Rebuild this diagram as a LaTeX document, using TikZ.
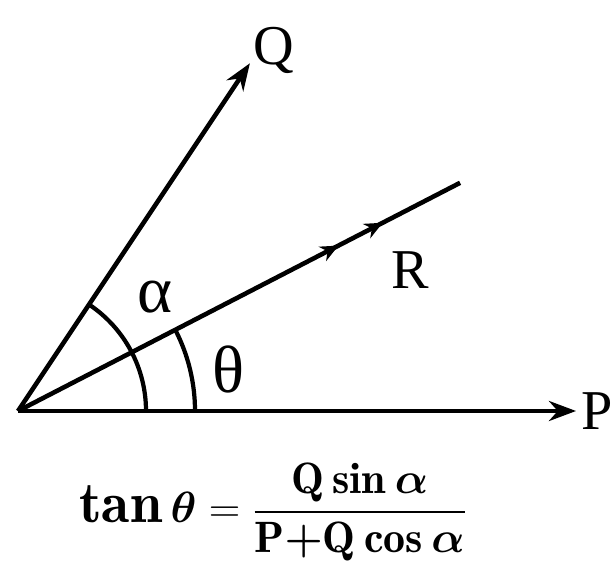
\documentclass[tikz,border=0pt]{standalone}
\usepackage{amsmath}
\usepackage{fontspec}
\newfontfamily\labelfont{Liberation Serif}
\usetikzlibrary{arrows.meta, decorations.markings}

\begin{document}
\begin{tikzpicture}[
    force/.style={line width=2.6pt, -{Stealth[length=5.4mm, width=4mm]}},
    anglearc/.style={line width=2.4pt},
    lbl/.style={font=\labelfont\fontsize{32}{38}\selectfont, inner sep=0pt},
    greek/.style={font=\labelfont\fontsize{38}{44}\selectfont, inner sep=0pt},
    eqn/.style={font=\fontsize{33}{40}\selectfont, inner sep=0pt},
    resultant/.style={line width=2.6pt, postaction={decorate}, decoration={markings,
        mark=at position 0.725 with {\arrow{Stealth[length=3.6mm, width=3.2mm]}},
        mark=at position 0.825 with {\arrow{Stealth[length=3.6mm, width=3.2mm]}}}}
]
\useasboundingbox (-0.36,-3.44) rectangle (11.94,8.22);

% Origin and ends of the forces
\coordinate (O) at (0,0);
\coordinate (Pend) at (11.16,0);
\coordinate (Qend) at (56.3:8.36);
\coordinate (Rend) at (27.3:9.95);

% Forces
\draw[force] (O) -- (Pend);
\draw[force] (O) -- (Qend);
\draw[resultant] (O) -- (Rend);

% Angles
\draw[anglearc] (2.56,0) arc[start angle=0, end angle=56.3, radius=2.56];
\draw[anglearc] (3.54,0) arc[start angle=0, end angle=27.3, radius=3.54];

% Labels
\node[lbl, anchor=west] (P) at ([xshift=3pt]Pend) {P};
\node[lbl, anchor=base west] (Q) at ([xshift=0.06cm, yshift=-0.02cm]Qend) {Q};
\node[lbl] (R) at (7.84,2.82) {R};
\node[greek] (alpha) at (2.74,2.28) {α};
\node[greek] (theta) at (4.2,0.84) {θ};

% Formula
\node[eqn] (formula) at (5.1,-2.02) {$\boldsymbol{\tan\theta} = \dfrac{\mbox{\fontsize{25}{30}\selectfont$\boldsymbol{\mathrm{Q}\sin\alpha}$}}{\mbox{\fontsize{25}{30}\selectfont$\boldsymbol{\mathrm{P}{+}\mathrm{Q}\cos\alpha}$}}$};

\end{tikzpicture}
\end{document}
